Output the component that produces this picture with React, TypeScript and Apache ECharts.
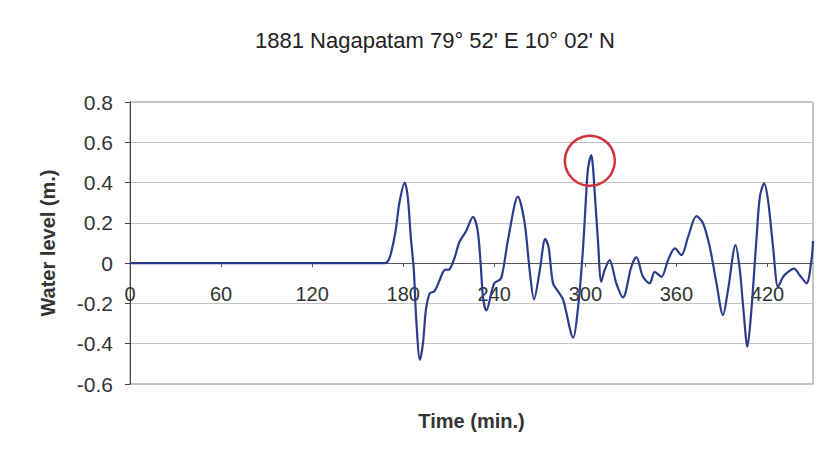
import React, { useEffect, useRef } from "react";
import * as echarts from "echarts";

const titleText = "1881 Nagapatam 79° 52' E 10° 02' N";
const xTicks = [0, 60, 120, 180, 240, 300, 360, 420];
const times = [0, 168, 170, 172, 175, 177.5, 181, 183, 185, 187, 188.6, 191, 193, 195, 197.5, 200.5, 204, 207, 210.5, 214, 217, 221.5, 226, 229, 231, 232.6, 234.7, 240, 244.5, 249, 255.6, 260, 263.3, 266.2, 270, 273.6, 275.8, 278.7, 282, 285.3, 292, 295.2, 298.4, 300.7, 301.8, 304, 305, 306.1, 308.3, 310.5, 312.7, 316, 320.4, 324.8, 330.3, 333.6, 338, 342.4, 345.7, 350.1, 354.5, 359, 363.3, 367.7, 373.2, 377.6, 382, 386.4, 390.7, 394, 399, 401.8, 404, 406.8, 409.4, 412.7, 415, 417.8, 420.4, 423.7, 427, 430.3, 433.6, 437.5, 441.3, 445.7, 449, 450];
const levels = [0, 0, 0.01, 0.05, 0.16, 0.3, 0.4, 0.33, 0.13, -0.035, -0.28, -0.48, -0.4, -0.23, -0.15, -0.14, -0.085, -0.035, -0.03, 0.03, 0.105, 0.16, 0.23, 0.165, 0, -0.17, -0.235, -0.1, -0.076, 0.114, 0.33, 0.2, -0.035, -0.18, -0.035, 0.12, 0.08, -0.1, -0.14, -0.18, -0.37, -0.22, 0.065, 0.36, 0.47, 0.536, 0.48, 0.36, 0.114, -0.093, -0.035, 0.015, -0.1, -0.17, -0.018, 0.03, -0.068, -0.1, -0.043, -0.068, 0.015, 0.073, 0.04, 0.13, 0.233, 0.197, 0.08, -0.1, -0.258, -0.134, 0.09, -0.035, -0.217, -0.415, -0.233, 0.114, 0.33, 0.396, 0.31, 0.08, -0.118, -0.068, -0.043, -0.027, -0.06, -0.1, 0.015, 0.11];
const highlight = [303, 0.508];

export default function App() {
  const ref = useRef<HTMLDivElement>(null);
  useEffect(() => {
    if (!ref.current) return;
    const chart = echarts.init(ref.current, null, { renderer: "svg" });
    const data = times.map((t, i) => [t, levels[i]]);
    chart.setOption({
      animation: false,
      backgroundColor: "#ffffff",
      textStyle: { fontFamily: "Liberation Sans, Arial, sans-serif" },
      title: {
        text: titleText,
        left: 250,
        top: 24,
        textStyle: { fontSize: 22, fontWeight: "normal", color: "#222", fontFamily: "Liberation Sans, Arial, sans-serif" },
      },
      grid: {
        left: 130,
        right: 26,
        top: 102,
        bottom: 75,
        show: true,
        borderColor: "#8a8a8a",
        borderWidth: 1,
        containLabel: false,
        outerBoundsMode: "none",
      },
      xAxis: {
        type: "value",
        min: 0,
        max: 450,
        interval: 60,
        offset: -121,
        name: "Time (min.)",
        nameLocation: "middle",
        nameGap: 148,
        nameTextStyle: { fontSize: 20, fontWeight: "bold", color: "#333" },
        axisLine: { onZero: false, lineStyle: { color: "#555", width: 1 } },
        axisTick: { show: true, length: 4, lineStyle: { color: "#555" } },
        axisLabel: {
          fontSize: 20,
          color: "#333",
          margin: 21,
          showMaxLabel: false,
          formatter: (v: number) => (xTicks.includes(v) ? String(v) : ""),
        },
        splitLine: { show: false },
      },
      yAxis: {
        type: "value",
        min: -0.6,
        max: 0.8,
        interval: 0.2,
        name: "Water level (m.)",
        nameLocation: "middle",
        nameGap: 72,
        nameRotate: 90,
        nameTextStyle: { fontSize: 20, fontWeight: "bold", color: "#333" },
        axisLine: { show: true, onZero: false, lineStyle: { color: "#444", width: 1 } },
        axisTick: { show: true, length: 5, lineStyle: { color: "#444" } },
        axisLabel: {
          fontSize: 21,
          color: "#333",
          margin: 17,
          formatter: (v: number) => {
            const r = Math.round(v * 10) / 10;
            return r === 0 ? "0" : r.toFixed(1);
          },
        },
        splitLine: { show: true, lineStyle: { color: "#c4c4c4", width: 1 } },
      },
      series: [
        {
          type: "line",
          data,
          showSymbol: false,
          smooth: 0.3,
          lineStyle: { color: "#2b3d8a", width: 2.2 },
          markPoint: {
            symbol: "circle",
            symbolSize: 50,
            silent: true,
            label: { show: false },
            itemStyle: { color: "rgba(0,0,0,0)", borderColor: "#d2323c", borderWidth: 2.5 },
            data: [{ coord: highlight }],
          },
        },
      ],
    });
    return () => chart.dispose();
  }, []);
  return (
    <div
      ref={ref}
      style={{ position: "fixed", left: 0, top: 0, width: 839, height: 459 }}
    />
  );
}
